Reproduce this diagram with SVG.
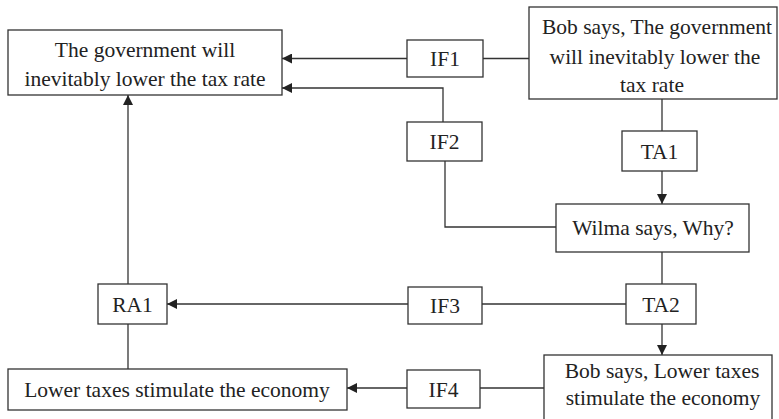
<svg xmlns="http://www.w3.org/2000/svg" width="779" height="419" viewBox="0 0 779 419">
<style>
.box{fill:#fff;stroke:#333;stroke-width:1.3}
.t{font-family:"Liberation Serif","Times New Roman",serif;font-size:21.5px;fill:#222;text-anchor:middle}
.c{fill:none;stroke:#333;stroke-width:1.3}
</style>
<defs>
<marker id="ah" viewBox="0 0 10 10" refX="10" refY="5" markerWidth="10" markerHeight="10" markerUnits="userSpaceOnUse" orient="auto">
<path d="M0,0 L10,5 L0,10 z" fill="#222"/>
</marker>
</defs>
<rect width="779" height="419" fill="#fff"/>
<g id="connectors">
<path class="c" d="M529,58.5 H483"/>
<path class="c" d="M407,58.5 H282" marker-end="url(#ah)"/>
<path class="c" d="M443,122 V88 H282" marker-end="url(#ah)"/>
<path class="c" d="M445,161 V227 H556"/>
<path class="c" d="M662,99 V131"/>
<path class="c" d="M662,171 V204" marker-end="url(#ah)"/>
<path class="c" d="M662,252 V284"/>
<path class="c" d="M626,304 H482"/>
<path class="c" d="M408,304 H167" marker-end="url(#ah)"/>
<path class="c" d="M662,324 V355" marker-end="url(#ah)"/>
<path class="c" d="M128,284 V95" marker-end="url(#ah)"/>
<path class="c" d="M128,324 V369"/>
<path class="c" d="M544,388 H480"/>
<path class="c" d="M407,388 H347" marker-end="url(#ah)"/>
</g>
<g id="gov">
<rect class="box" x="8" y="30" width="274" height="65"/>
<text class="t" x="145" y="57">The government will</text>
<text class="t" x="145" y="86">inevitably lower the tax rate</text>
</g>
<g id="bob1">
<rect class="box" x="529" y="7" width="248" height="92"/>
<text class="t" x="657" y="34">Bob says, The government</text>
<text class="t" x="655" y="64">will inevitably lower the</text>
<text class="t" x="652" y="92">tax rate</text>
</g>
<g id="if1">
<rect class="box" x="407" y="40" width="76" height="37"/>
<text class="t" x="445" y="66">IF1</text>
</g>
<g id="if2">
<rect class="box" x="407" y="122" width="75" height="39"/>
<text class="t" x="444.5" y="149">IF2</text>
</g>
<g id="ta1">
<rect class="box" x="622" y="131" width="75" height="40"/>
<text class="t" x="659.5" y="159">TA1</text>
</g>
<g id="wilma">
<rect class="box" x="556" y="204" width="193" height="48"/>
<text class="t" x="653" y="235">Wilma says, Why?</text>
</g>
<g id="ra1">
<rect class="box" x="98" y="284" width="69" height="40"/>
<text class="t" x="132.5" y="312">RA1</text>
</g>
<g id="if3">
<rect class="box" x="408" y="287" width="74" height="37"/>
<text class="t" x="445" y="313">IF3</text>
</g>
<g id="ta2">
<rect class="box" x="626" y="284" width="70" height="40"/>
<text class="t" x="661" y="312">TA2</text>
</g>
<g id="lower">
<rect class="box" x="8" y="369" width="339" height="41"/>
<text class="t" x="177" y="397">Lower taxes stimulate the economy</text>
</g>
<g id="if4">
<rect class="box" x="407" y="370" width="73" height="38"/>
<text class="t" x="443.5" y="397">IF4</text>
</g>
<g id="bob2">
<rect class="box" x="544" y="355" width="228" height="80"/>
<text class="t" x="662" y="378">Bob says, Lower taxes</text>
<text class="t" x="663" y="405">stimulate the economy</text>
</g>
</svg>
